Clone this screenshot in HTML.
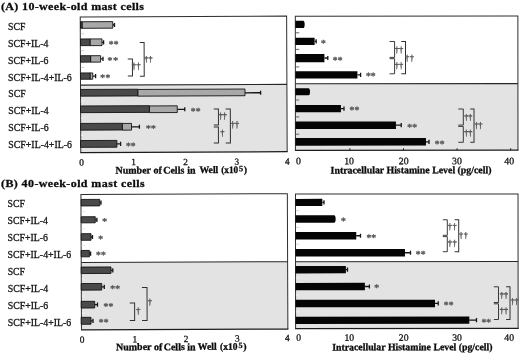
<!DOCTYPE html>
<html><head><meta charset="utf-8"><title>Mast cells figure</title>
<style>
html,body{margin:0;padding:0;background:#fff;}
body{width:520px;height:353px;overflow:hidden;}
svg{display:block;will-change:transform;opacity:0.999;font-family:"Liberation Serif","DejaVu Serif",serif;}
</style></head><body>
<svg width="520" height="353" viewBox="0 0 520 353">
<rect x="0" y="0" width="520" height="353" fill="#ffffff"/>
<g transform="rotate(-0.23 184.0 173.0)">
<rect x="80.85" y="84.75" width="206.40" height="67.35" fill="#e3e3e3"/>
<line x1="80.85" y1="84.75" x2="287.25" y2="84.75" stroke="#262626" stroke-width="1.1"/>
<path d="M80.85 152.10V16.50H287.25V152.10" fill="none" stroke="#2e2e2e" stroke-width="1"/>
<line x1="80.35" y1="152.10" x2="287.75" y2="152.10" stroke="#1c1c1c" stroke-width="1.25"/>
<path d="M113.34 24.74h1.75m0 -2.1v4.2" fill="none" stroke="#161616" stroke-width="1.3"/>
<rect x="82.61" y="21.34" width="30.75" height="6.55" fill="#a8a8a8" stroke="#141414" stroke-width="0.9"/>
<rect x="81.11" y="21.34" width="1.50" height="6.55" fill="#4a4a4a" stroke="#141414" stroke-width="0.9"/>
<path d="M102.53 41.97h1.60m0 -2.1v4.2" fill="none" stroke="#161616" stroke-width="1.3"/>
<rect x="90.54" y="38.57" width="12.00" height="6.70" fill="#a8a8a8" stroke="#141414" stroke-width="0.9"/>
<rect x="81.04" y="38.54" width="9.50" height="6.70" fill="#4a4a4a" stroke="#141414" stroke-width="0.9"/>
<text x="111.71" y="46.91" font-size="9.6" text-anchor="middle" fill="#5e5e5e" stroke="#5e5e5e" stroke-width="0.45">*</text>
<text x="116.76" y="46.93" font-size="9.6" text-anchor="middle" fill="#5e5e5e" stroke="#5e5e5e" stroke-width="0.45">*</text>
<path d="M101.06 58.59h2.40m0 -2.1v4.2" fill="none" stroke="#161616" stroke-width="1.3"/>
<rect x="91.07" y="55.33" width="10.00" height="6.45" fill="#a8a8a8" stroke="#141414" stroke-width="0.9"/>
<rect x="80.97" y="55.29" width="10.10" height="6.45" fill="#4a4a4a" stroke="#141414" stroke-width="0.9"/>
<text x="110.39" y="63.25" font-size="9.6" text-anchor="middle" fill="#5e5e5e" stroke="#5e5e5e" stroke-width="0.45">*</text>
<text x="116.19" y="63.28" font-size="9.6" text-anchor="middle" fill="#5e5e5e" stroke="#5e5e5e" stroke-width="0.45">*</text>
<path d="M93.14 75.73h2.85m0 -2.1v4.2" fill="none" stroke="#161616" stroke-width="1.3"/>
<rect x="90.40" y="72.57" width="2.75" height="6.30" fill="#a8a8a8" stroke="#141414" stroke-width="0.9"/>
<rect x="80.90" y="72.54" width="9.50" height="6.30" fill="#4a4a4a" stroke="#141414" stroke-width="0.9"/>
<text x="103.07" y="80.32" font-size="9.6" text-anchor="middle" fill="#5e5e5e" stroke="#5e5e5e" stroke-width="0.45">*</text>
<text x="108.32" y="80.35" font-size="9.6" text-anchor="middle" fill="#5e5e5e" stroke="#5e5e5e" stroke-width="0.45">*</text>
<path d="M245.32 93.05h15.60m0 -2.1v4.2" fill="none" stroke="#161616" stroke-width="1.3"/>
<rect x="138.09" y="89.27" width="107.25" height="6.70" fill="#a8a8a8" stroke="#141414" stroke-width="0.9"/>
<rect x="80.84" y="89.04" width="57.25" height="6.70" fill="#4a4a4a" stroke="#141414" stroke-width="0.9"/>
<path d="M177.51 109.27h7.50m0 -2.1v4.2" fill="none" stroke="#161616" stroke-width="1.3"/>
<rect x="149.67" y="105.81" width="27.85" height="6.70" fill="#a8a8a8" stroke="#141414" stroke-width="0.9"/>
<rect x="80.77" y="105.54" width="68.90" height="6.70" fill="#4a4a4a" stroke="#141414" stroke-width="0.9"/>
<text x="193.29" y="114.29" font-size="9.6" text-anchor="middle" fill="#5e5e5e" stroke="#5e5e5e" stroke-width="0.45">*</text>
<text x="198.29" y="114.31" font-size="9.6" text-anchor="middle" fill="#5e5e5e" stroke="#5e5e5e" stroke-width="0.45">*</text>
<path d="M131.69 126.59h7.90m0 -2.1v4.2" fill="none" stroke="#161616" stroke-width="1.3"/>
<rect x="122.45" y="123.20" width="9.25" height="6.70" fill="#a8a8a8" stroke="#141414" stroke-width="0.9"/>
<rect x="80.70" y="123.03" width="41.75" height="6.70" fill="#4a4a4a" stroke="#141414" stroke-width="0.9"/>
<text x="148.62" y="131.26" font-size="9.6" text-anchor="middle" fill="#5e5e5e" stroke="#5e5e5e" stroke-width="0.45">*</text>
<text x="153.62" y="131.28" font-size="9.6" text-anchor="middle" fill="#5e5e5e" stroke="#5e5e5e" stroke-width="0.45">*</text>
<path d="M117.02 143.68h3.70m0 -2.1v4.2" fill="none" stroke="#161616" stroke-width="1.3"/>
<rect x="80.63" y="140.13" width="36.40" height="6.80" fill="#4a4a4a" stroke="#141414" stroke-width="0.9"/>
<text x="128.55" y="148.68" font-size="9.6" text-anchor="middle" fill="#5e5e5e" stroke="#5e5e5e" stroke-width="0.45">*</text>
<text x="133.15" y="148.70" font-size="9.6" text-anchor="middle" fill="#5e5e5e" stroke="#5e5e5e" stroke-width="0.45">*</text>
<line x1="81.46" y1="33.29" x2="84.86" y2="33.30" stroke="#d2d2d2" stroke-width="0.9"/>
<line x1="81.39" y1="50.19" x2="84.79" y2="50.20" stroke="#d2d2d2" stroke-width="0.9"/>
<line x1="81.32" y1="67.09" x2="84.72" y2="67.10" stroke="#d2d2d2" stroke-width="0.9"/>
<line x1="81.19" y1="100.59" x2="84.59" y2="100.60" stroke="#f2f2f2" stroke-width="0.9"/>
<line x1="81.12" y1="117.59" x2="84.52" y2="117.60" stroke="#f2f2f2" stroke-width="0.9"/>
<line x1="81.05" y1="134.59" x2="84.45" y2="134.60" stroke="#f2f2f2" stroke-width="0.9"/>
<path d="M128.21 58.78h4.65v17.00h-4.65" fill="none" stroke="#303030" stroke-width="1.0"/>
<path d="M140.27 42.32h4.35v33.70h-4.35" fill="none" stroke="#303030" stroke-width="1.0"/>
<text x="134.42" y="68.81" font-size="8.98" text-anchor="middle" fill="#555555" stroke="#555555" stroke-width="0.35">†</text>
<text x="138.92" y="68.83" font-size="8.98" text-anchor="middle" fill="#555555" stroke="#555555" stroke-width="0.35">†</text>
<text x="146.70" y="61.54" font-size="8.12" text-anchor="middle" fill="#555555" stroke="#555555" stroke-width="0.35">†</text>
<text x="151.05" y="61.56" font-size="8.12" text-anchor="middle" fill="#555555" stroke="#555555" stroke-width="0.35">†</text>
<path d="M214.01 109.12h4.65v16.00h-4.65" fill="none" stroke="#303030" stroke-width="1.0"/>
<path d="M213.93 127.02h4.65v16.20h-4.65" fill="none" stroke="#303030" stroke-width="1.0"/>
<path d="M225.86 109.17h4.70v34.10h-4.70" fill="none" stroke="#303030" stroke-width="1.0"/>
<text x="220.82" y="118.93" font-size="8.64" text-anchor="middle" fill="#555555" stroke="#555555" stroke-width="0.35">†</text>
<text x="224.97" y="118.95" font-size="8.64" text-anchor="middle" fill="#555555" stroke="#555555" stroke-width="0.35">†</text>
<text x="222.65" y="135.87" font-size="8.52" text-anchor="middle" fill="#555555" stroke="#555555" stroke-width="0.35">†</text>
<text x="232.93" y="127.71" font-size="8.98" text-anchor="middle" fill="#555555" stroke="#555555" stroke-width="0.35">†</text>
<text x="237.08" y="127.73" font-size="8.98" text-anchor="middle" fill="#555555" stroke="#555555" stroke-width="0.35">†</text>
<rect x="80.85" y="262.10" width="206.40" height="67.35" fill="#e3e3e3"/>
<line x1="80.85" y1="262.10" x2="287.25" y2="262.10" stroke="#262626" stroke-width="1.1"/>
<path d="M80.85 329.45V194.15H287.25V329.45" fill="none" stroke="#2e2e2e" stroke-width="1"/>
<line x1="80.35" y1="329.45" x2="287.75" y2="329.45" stroke="#1c1c1c" stroke-width="1.25"/>
<path d="M99.63 202.36h1.25m0 -2.1v4.2" fill="none" stroke="#161616" stroke-width="1.3"/>
<rect x="81.09" y="199.04" width="18.55" height="6.50" fill="#4a4a4a" stroke="#141414" stroke-width="0.9"/>
<path d="M95.06 219.44h1.65m0 -2.1v4.2" fill="none" stroke="#161616" stroke-width="1.3"/>
<rect x="81.03" y="216.34" width="14.05" height="6.10" fill="#4a4a4a" stroke="#141414" stroke-width="0.9"/>
<text x="104.49" y="224.08" font-size="9.6" text-anchor="middle" fill="#5e5e5e" stroke="#5e5e5e" stroke-width="0.45">*</text>
<path d="M90.74 236.63h1.50m0 -2.1v4.2" fill="none" stroke="#161616" stroke-width="1.3"/>
<rect x="80.96" y="233.29" width="9.80" height="6.60" fill="#4a4a4a" stroke="#141414" stroke-width="0.9"/>
<text x="100.27" y="241.56" font-size="9.6" text-anchor="middle" fill="#5e5e5e" stroke="#5e5e5e" stroke-width="0.45">*</text>
<path d="M89.08 253.27h1.20m0 -2.1v4.2" fill="none" stroke="#161616" stroke-width="1.3"/>
<rect x="80.89" y="250.04" width="8.20" height="6.40" fill="#4a4a4a" stroke="#141414" stroke-width="0.9"/>
<text x="98.11" y="257.56" font-size="9.6" text-anchor="middle" fill="#5e5e5e" stroke="#5e5e5e" stroke-width="0.45">*</text>
<text x="103.11" y="257.58" font-size="9.6" text-anchor="middle" fill="#5e5e5e" stroke="#5e5e5e" stroke-width="0.45">*</text>
<path d="M110.61 270.01h1.80m0 -2.1v4.2" fill="none" stroke="#161616" stroke-width="1.3"/>
<rect x="80.82" y="266.64" width="29.80" height="6.50" fill="#4a4a4a" stroke="#141414" stroke-width="0.9"/>
<path d="M101.24 286.52h2.60m0 -2.1v4.2" fill="none" stroke="#161616" stroke-width="1.3"/>
<rect x="80.76" y="283.14" width="20.50" height="6.60" fill="#4a4a4a" stroke="#141414" stroke-width="0.9"/>
<text x="112.22" y="291.36" font-size="9.6" text-anchor="middle" fill="#5e5e5e" stroke="#5e5e5e" stroke-width="0.45">*</text>
<text x="117.22" y="291.38" font-size="9.6" text-anchor="middle" fill="#5e5e5e" stroke="#5e5e5e" stroke-width="0.45">*</text>
<path d="M94.17 304.34h2.80m0 -2.1v4.2" fill="none" stroke="#161616" stroke-width="1.3"/>
<rect x="80.69" y="300.94" width="13.50" height="6.70" fill="#4a4a4a" stroke="#141414" stroke-width="0.9"/>
<text x="105.40" y="309.14" font-size="9.6" text-anchor="middle" fill="#5e5e5e" stroke="#5e5e5e" stroke-width="0.45">*</text>
<text x="110.40" y="309.16" font-size="9.6" text-anchor="middle" fill="#5e5e5e" stroke="#5e5e5e" stroke-width="0.45">*</text>
<path d="M90.41 320.43h2.00m0 -2.1v4.2" fill="none" stroke="#161616" stroke-width="1.3"/>
<rect x="80.62" y="316.94" width="9.80" height="6.90" fill="#4a4a4a" stroke="#141414" stroke-width="0.9"/>
<text x="100.59" y="324.92" font-size="9.6" text-anchor="middle" fill="#5e5e5e" stroke="#5e5e5e" stroke-width="0.45">*</text>
<text x="105.59" y="324.94" font-size="9.6" text-anchor="middle" fill="#5e5e5e" stroke="#5e5e5e" stroke-width="0.45">*</text>
<line x1="81.45" y1="211.09" x2="84.85" y2="211.10" stroke="#e6e6e6" stroke-width="0.9"/>
<line x1="81.38" y1="228.09" x2="84.78" y2="228.10" stroke="#e6e6e6" stroke-width="0.9"/>
<line x1="81.31" y1="245.09" x2="84.71" y2="245.10" stroke="#e6e6e6" stroke-width="0.9"/>
<line x1="81.38" y1="278.59" x2="84.78" y2="278.60" stroke="#f2f2f2" stroke-width="0.9"/>
<line x1="81.31" y1="295.59" x2="84.71" y2="295.60" stroke="#f2f2f2" stroke-width="0.9"/>
<line x1="81.24" y1="312.59" x2="84.64" y2="312.60" stroke="#f2f2f2" stroke-width="0.9"/>
<path d="M129.23 302.88h4.85v17.50h-4.85" fill="none" stroke="#303030" stroke-width="1.0"/>
<path d="M141.44 287.33h5.10v33.10h-5.10" fill="none" stroke="#303030" stroke-width="1.0"/>
<text x="137.54" y="313.54" font-size="8.92" text-anchor="middle" fill="#555555" stroke="#555555" stroke-width="0.35">†</text>
<text x="149.47" y="304.57" font-size="8.52" text-anchor="middle" fill="#555555" stroke="#555555" stroke-width="0.35">†</text>
<text x="81.73" y="164.99" font-size="9.3" text-anchor="middle" fill="#161616" stroke="#161616" stroke-width="0.3">0</text>
<text x="133.63" y="164.80" font-size="9.3" text-anchor="middle" fill="#161616" stroke="#161616" stroke-width="0.3">1</text>
<text x="185.63" y="164.91" font-size="9.3" text-anchor="middle" fill="#161616" stroke="#161616" stroke-width="0.3">2</text>
<text x="236.83" y="164.91" font-size="9.3" text-anchor="middle" fill="#161616" stroke="#161616" stroke-width="0.3">3</text>
<text x="287.33" y="164.81" font-size="9.3" text-anchor="middle" fill="#161616" stroke="#161616" stroke-width="0.3">4</text>
<text x="81.52" y="342.29" font-size="9.4" text-anchor="middle" fill="#161616" stroke="#161616" stroke-width="0.3">0</text>
<text x="134.12" y="342.00" font-size="9.4" text-anchor="middle" fill="#161616" stroke="#161616" stroke-width="0.3">1</text>
<text x="185.42" y="341.91" font-size="9.4" text-anchor="middle" fill="#161616" stroke="#161616" stroke-width="0.3">2</text>
<text x="236.72" y="341.71" font-size="9.4" text-anchor="middle" fill="#161616" stroke="#161616" stroke-width="0.3">3</text>
<text x="286.62" y="341.41" font-size="9.4" text-anchor="middle" fill="#161616" stroke="#161616" stroke-width="0.3">4</text>
<text x="115.50" y="173.23" font-size="10" font-weight="bold" text-anchor="start" fill="#0c0c0c" stroke="#0c0c0c" stroke-width="0.3">Number</text>
<text x="153.60" y="173.38" font-size="10" font-weight="bold" text-anchor="start" fill="#0c0c0c" stroke="#0c0c0c" stroke-width="0.3">of</text>
<text x="163.20" y="173.42" font-size="10" font-weight="bold" text-anchor="start" fill="#0c0c0c" stroke="#0c0c0c" stroke-width="0.3">Cells</text>
<text x="187.20" y="173.51" font-size="10" font-weight="bold" text-anchor="start" fill="#0c0c0c" stroke="#0c0c0c" stroke-width="0.3">in</text>
<text x="199.40" y="173.11" font-size="10" font-weight="bold" text-anchor="start" fill="#0c0c0c" textLength="18.9" lengthAdjust="spacingAndGlyphs" stroke="#0c0c0c" stroke-width="0.3">Well</text>
<text x="221.20" y="173.20" font-size="10" font-weight="bold" text-anchor="start" fill="#0c0c0c" textLength="17.0" lengthAdjust="spacingAndGlyphs" stroke="#0c0c0c" stroke-width="0.3">(x10</text>
<text x="238.91" y="171.42" font-size="8.2" font-weight="bold" text-anchor="start" fill="#0c0c0c" stroke="#0c0c0c" stroke-width="0.3">5</text>
<text x="243.80" y="173.29" font-size="10" font-weight="bold" text-anchor="start" fill="#0c0c0c" stroke="#0c0c0c" stroke-width="0.3">)</text>
<text x="115.29" y="349.93" font-size="10" font-weight="bold" text-anchor="start" fill="#0c0c0c" stroke="#0c0c0c" stroke-width="0.3">Number</text>
<text x="153.39" y="350.08" font-size="10" font-weight="bold" text-anchor="start" fill="#0c0c0c" stroke="#0c0c0c" stroke-width="0.3">of</text>
<text x="162.99" y="350.12" font-size="10" font-weight="bold" text-anchor="start" fill="#0c0c0c" stroke="#0c0c0c" stroke-width="0.3">Cells</text>
<text x="186.59" y="350.21" font-size="10" font-weight="bold" text-anchor="start" fill="#0c0c0c" stroke="#0c0c0c" stroke-width="0.3">in</text>
<text x="197.09" y="349.80" font-size="10" font-weight="bold" text-anchor="start" fill="#0c0c0c" textLength="18.9" lengthAdjust="spacingAndGlyphs" stroke="#0c0c0c" stroke-width="0.3">Well</text>
<text x="219.29" y="349.89" font-size="10" font-weight="bold" text-anchor="start" fill="#0c0c0c" textLength="17.4" lengthAdjust="spacingAndGlyphs" stroke="#0c0c0c" stroke-width="0.3">(x10</text>
<text x="237.80" y="348.12" font-size="8.2" font-weight="bold" text-anchor="start" fill="#0c0c0c" stroke="#0c0c0c" stroke-width="0.3">5</text>
<text x="242.49" y="349.99" font-size="10" font-weight="bold" text-anchor="start" fill="#0c0c0c" stroke="#0c0c0c" stroke-width="0.3">)</text>
</g>
<g transform="rotate(-0.05 407.0 173.0)">
<rect x="295.45" y="83.70" width="222.55" height="66.55" fill="#e3e3e3"/>
<line x1="295.45" y1="83.70" x2="518.00" y2="83.70" stroke="#262626" stroke-width="1.1"/>
<path d="M295.45 150.25V16.05H518.00V150.25" fill="none" stroke="#2e2e2e" stroke-width="1"/>
<line x1="294.95" y1="150.25" x2="518.50" y2="150.25" stroke="#1c1c1c" stroke-width="1.2"/>
<path d="M295.45 20.70H303.20Q304.80 20.70 304.80 24.30Q304.80 27.90 303.20 27.90H295.45Z" fill="#050505"/>
<path d="M314.86 41.24h1.45m0 -2.1v4.2" fill="none" stroke="#161616" stroke-width="1.3"/>
<rect x="295.45" y="37.75" width="19.30" height="7.15" fill="#050505"/>
<text x="323.56" y="46.08" font-size="9.6" text-anchor="middle" fill="#5e5e5e" stroke="#5e5e5e" stroke-width="0.45">*</text>
<path d="M324.60 57.93h3.30m0 -2.1v4.2" fill="none" stroke="#161616" stroke-width="1.3"/>
<rect x="295.45" y="53.90" width="29.05" height="8.20" fill="#050505"/>
<text x="335.30" y="63.09" font-size="9.6" text-anchor="middle" fill="#5e5e5e" stroke="#5e5e5e" stroke-width="0.45">*</text>
<text x="340.30" y="63.09" font-size="9.6" text-anchor="middle" fill="#5e5e5e" stroke="#5e5e5e" stroke-width="0.45">*</text>
<path d="M357.59 74.83h3.10m0 -2.1v4.2" fill="none" stroke="#161616" stroke-width="1.3"/>
<rect x="295.45" y="71.25" width="62.05" height="7.25" fill="#050505"/>
<text x="368.53" y="79.02" font-size="9.6" text-anchor="middle" fill="#5e5e5e" stroke="#5e5e5e" stroke-width="0.45">*</text>
<text x="373.13" y="79.02" font-size="9.6" text-anchor="middle" fill="#5e5e5e" stroke="#5e5e5e" stroke-width="0.45">*</text>
<path d="M295.45 88.10H308.50Q310.10 88.10 310.10 91.67Q310.10 95.25 308.50 95.25H295.45Z" fill="#050505"/>
<path d="M341.06 108.57h3.00m0 -2.1v4.2" fill="none" stroke="#161616" stroke-width="1.3"/>
<rect x="295.45" y="105.00" width="45.55" height="7.25" fill="#050505"/>
<text x="351.90" y="112.85" font-size="9.6" text-anchor="middle" fill="#5e5e5e" stroke="#5e5e5e" stroke-width="0.45">*</text>
<text x="356.90" y="112.86" font-size="9.6" text-anchor="middle" fill="#5e5e5e" stroke="#5e5e5e" stroke-width="0.45">*</text>
<path d="M396.04 125.19h5.25m0 -2.1v4.2" fill="none" stroke="#161616" stroke-width="1.3"/>
<rect x="295.45" y="121.40" width="100.55" height="7.60" fill="#050505"/>
<text x="409.74" y="130.15" font-size="9.6" text-anchor="middle" fill="#5e5e5e" stroke="#5e5e5e" stroke-width="0.45">*</text>
<text x="414.74" y="130.16" font-size="9.6" text-anchor="middle" fill="#5e5e5e" stroke="#5e5e5e" stroke-width="0.45">*</text>
<path d="M426.03 141.82h3.00m0 -2.1v4.2" fill="none" stroke="#161616" stroke-width="1.3"/>
<rect x="295.45" y="138.00" width="130.55" height="7.60" fill="#050505"/>
<text x="437.22" y="147.08" font-size="9.6" text-anchor="middle" fill="#5e5e5e" stroke="#5e5e5e" stroke-width="0.45">*</text>
<text x="442.22" y="147.08" font-size="9.6" text-anchor="middle" fill="#5e5e5e" stroke="#5e5e5e" stroke-width="0.45">*</text>
<line x1="295.97" y1="32.70" x2="299.37" y2="32.71" stroke="#555" stroke-width="0.9"/>
<line x1="295.96" y1="49.30" x2="299.36" y2="49.31" stroke="#555" stroke-width="0.9"/>
<line x1="295.94" y1="66.80" x2="299.34" y2="66.81" stroke="#555" stroke-width="0.9"/>
<line x1="295.91" y1="99.90" x2="299.31" y2="99.91" stroke="#555" stroke-width="0.9"/>
<line x1="295.90" y1="116.80" x2="299.30" y2="116.81" stroke="#555" stroke-width="0.9"/>
<line x1="295.88" y1="134.10" x2="299.28" y2="134.11" stroke="#555" stroke-width="0.9"/>
<path d="M389.71 41.48h5.00v15.90h-5.00" fill="none" stroke="#303030" stroke-width="0.95"/>
<path d="M389.70 58.68h5.00v15.10h-5.00" fill="none" stroke="#303030" stroke-width="0.95"/>
<path d="M401.36 41.50h4.25v32.30h-4.25" fill="none" stroke="#303030" stroke-width="1.0"/>
<text x="397.01" y="52.60" font-size="8.52" text-anchor="middle" fill="#555555" stroke="#555555" stroke-width="0.35">†</text>
<text x="401.36" y="52.61" font-size="8.52" text-anchor="middle" fill="#555555" stroke="#555555" stroke-width="0.35">†</text>
<text x="396.99" y="68.20" font-size="8.52" text-anchor="middle" fill="#555555" stroke="#555555" stroke-width="0.35">†</text>
<text x="401.34" y="68.21" font-size="8.52" text-anchor="middle" fill="#555555" stroke="#555555" stroke-width="0.35">†</text>
<text x="407.35" y="60.71" font-size="8.52" text-anchor="middle" fill="#555555" stroke="#555555" stroke-width="0.35">†</text>
<text x="412.00" y="60.71" font-size="8.52" text-anchor="middle" fill="#555555" stroke="#555555" stroke-width="0.35">†</text>
<path d="M458.31 109.04h5.05v16.10h-5.05" fill="none" stroke="#303030" stroke-width="0.95"/>
<path d="M458.29 126.44h5.05v15.90h-5.05" fill="none" stroke="#303030" stroke-width="0.95"/>
<path d="M470.26 109.06h3.80v33.30h-3.80" fill="none" stroke="#303030" stroke-width="1.0"/>
<text x="466.25" y="119.75" font-size="8.13" text-anchor="middle" fill="#555555" stroke="#555555" stroke-width="0.35">†</text>
<text x="470.25" y="119.75" font-size="8.13" text-anchor="middle" fill="#555555" stroke="#555555" stroke-width="0.35">†</text>
<text x="466.23" y="135.63" font-size="8.18" text-anchor="middle" fill="#555555" stroke="#555555" stroke-width="0.35">†</text>
<text x="470.23" y="135.64" font-size="8.18" text-anchor="middle" fill="#555555" stroke="#555555" stroke-width="0.35">†</text>
<text x="476.54" y="127.97" font-size="8.52" text-anchor="middle" fill="#555555" stroke="#555555" stroke-width="0.35">†</text>
<text x="480.54" y="127.97" font-size="8.52" text-anchor="middle" fill="#555555" stroke="#555555" stroke-width="0.35">†</text>
<line x1="349.92" y1="148.20" x2="349.92" y2="150.20" stroke="#222" stroke-width="1.0"/>
<line x1="403.52" y1="148.25" x2="403.52" y2="150.25" stroke="#222" stroke-width="1.0"/>
<line x1="457.12" y1="148.29" x2="457.12" y2="150.29" stroke="#222" stroke-width="1.0"/>
<line x1="510.72" y1="148.34" x2="510.72" y2="150.34" stroke="#222" stroke-width="1.0"/>
<rect x="295.45" y="261.60" width="222.55" height="66.90" fill="#e3e3e3"/>
<line x1="295.45" y1="261.60" x2="518.00" y2="261.60" stroke="#262626" stroke-width="1.1"/>
<path d="M295.45 328.50V194.00H518.00V328.50" fill="none" stroke="#2e2e2e" stroke-width="1"/>
<line x1="294.95" y1="328.50" x2="518.50" y2="328.50" stroke="#1c1c1c" stroke-width="1.3"/>
<path d="M322.27 202.28h1.70m0 -2.1v4.2" fill="none" stroke="#161616" stroke-width="1.3"/>
<rect x="295.45" y="198.80" width="26.85" height="7.10" fill="#050505"/>
<path d="M295.45 215.25H334.00Q335.60 215.25 335.60 219.00Q335.60 222.75 334.00 222.75H295.45Z" fill="#050505"/>
<text x="343.41" y="223.99" font-size="9.6" text-anchor="middle" fill="#5e5e5e" stroke="#5e5e5e" stroke-width="0.45">*</text>
<path d="M356.15 235.71h4.30m0 -2.1v4.2" fill="none" stroke="#161616" stroke-width="1.3"/>
<rect x="295.45" y="232.00" width="60.75" height="7.50" fill="#050505"/>
<text x="368.79" y="240.62" font-size="9.6" text-anchor="middle" fill="#5e5e5e" stroke="#5e5e5e" stroke-width="0.45">*</text>
<text x="373.69" y="240.62" font-size="9.6" text-anchor="middle" fill="#5e5e5e" stroke="#5e5e5e" stroke-width="0.45">*</text>
<path d="M404.83 252.75h5.60m0 -2.1v4.2" fill="none" stroke="#161616" stroke-width="1.3"/>
<rect x="295.45" y="249.00" width="109.45" height="7.50" fill="#050505"/>
<text x="418.08" y="257.16" font-size="9.6" text-anchor="middle" fill="#5e5e5e" stroke="#5e5e5e" stroke-width="0.45">*</text>
<text x="422.98" y="257.16" font-size="9.6" text-anchor="middle" fill="#5e5e5e" stroke="#5e5e5e" stroke-width="0.45">*</text>
<path d="M345.72 269.60h1.70m0 -2.1v4.2" fill="none" stroke="#161616" stroke-width="1.3"/>
<rect x="295.45" y="266.00" width="50.35" height="7.30" fill="#050505"/>
<path d="M364.70 286.46h4.60m0 -2.1v4.2" fill="none" stroke="#161616" stroke-width="1.3"/>
<rect x="295.45" y="282.80" width="69.35" height="7.40" fill="#050505"/>
<text x="376.55" y="290.82" font-size="9.6" text-anchor="middle" fill="#5e5e5e" stroke="#5e5e5e" stroke-width="0.45">*</text>
<path d="M434.79 303.47h3.35m0 -2.1v4.2" fill="none" stroke="#161616" stroke-width="1.3"/>
<rect x="295.45" y="299.70" width="139.45" height="7.50" fill="#050505"/>
<text x="446.03" y="307.98" font-size="9.6" text-anchor="middle" fill="#5e5e5e" stroke="#5e5e5e" stroke-width="0.45">*</text>
<text x="451.03" y="307.99" font-size="9.6" text-anchor="middle" fill="#5e5e5e" stroke="#5e5e5e" stroke-width="0.45">*</text>
<path d="M469.07 320.25h7.30m0 -2.1v4.2" fill="none" stroke="#161616" stroke-width="1.3"/>
<rect x="295.45" y="316.60" width="173.75" height="7.20" fill="#050505"/>
<text x="483.72" y="325.22" font-size="9.6" text-anchor="middle" fill="#5e5e5e" stroke="#5e5e5e" stroke-width="0.45">*</text>
<text x="488.62" y="325.22" font-size="9.6" text-anchor="middle" fill="#5e5e5e" stroke="#5e5e5e" stroke-width="0.45">*</text>
<line x1="295.82" y1="210.50" x2="299.22" y2="210.51" stroke="#d0d0d0" stroke-width="0.9"/>
<line x1="295.80" y1="227.30" x2="299.20" y2="227.31" stroke="#d0d0d0" stroke-width="0.9"/>
<line x1="295.79" y1="244.10" x2="299.19" y2="244.11" stroke="#d0d0d0" stroke-width="0.9"/>
<line x1="295.76" y1="277.90" x2="299.16" y2="277.91" stroke="#f4f4f4" stroke-width="0.9"/>
<line x1="295.74" y1="294.80" x2="299.14" y2="294.81" stroke="#f4f4f4" stroke-width="0.9"/>
<line x1="295.73" y1="311.80" x2="299.13" y2="311.81" stroke="#f4f4f4" stroke-width="0.9"/>
<path d="M442.76 219.83h4.50v15.50h-4.50" fill="none" stroke="#303030" stroke-width="0.95"/>
<path d="M442.74 236.63h4.50v15.10h-4.50" fill="none" stroke="#303030" stroke-width="0.95"/>
<path d="M454.56 219.84h4.10v31.90h-4.10" fill="none" stroke="#303030" stroke-width="1.0"/>
<text x="449.95" y="229.25" font-size="8.52" text-anchor="middle" fill="#555555" stroke="#555555" stroke-width="0.35">†</text>
<text x="454.55" y="229.25" font-size="8.52" text-anchor="middle" fill="#555555" stroke="#555555" stroke-width="0.35">†</text>
<text x="449.94" y="246.02" font-size="8.64" text-anchor="middle" fill="#555555" stroke="#555555" stroke-width="0.35">†</text>
<text x="454.54" y="246.03" font-size="8.64" text-anchor="middle" fill="#555555" stroke="#555555" stroke-width="0.35">†</text>
<text x="461.14" y="238.11" font-size="8.3" text-anchor="middle" fill="#555555" stroke="#555555" stroke-width="0.35">†</text>
<text x="465.74" y="238.11" font-size="8.3" text-anchor="middle" fill="#555555" stroke="#555555" stroke-width="0.35">†</text>
<path d="M493.70 286.88h4.70v15.70h-4.70" fill="none" stroke="#303030" stroke-width="0.95"/>
<path d="M493.69 303.88h4.70v15.70h-4.70" fill="none" stroke="#303030" stroke-width="0.95"/>
<path d="M506.00 286.89h3.90v32.70h-3.90" fill="none" stroke="#303030" stroke-width="1.0"/>
<text x="501.79" y="297.76" font-size="8.18" text-anchor="middle" fill="#555555" stroke="#555555" stroke-width="0.35">†</text>
<text x="505.99" y="297.77" font-size="8.18" text-anchor="middle" fill="#555555" stroke="#555555" stroke-width="0.35">†</text>
<text x="501.78" y="313.36" font-size="8.18" text-anchor="middle" fill="#555555" stroke="#555555" stroke-width="0.35">†</text>
<text x="505.98" y="313.37" font-size="8.18" text-anchor="middle" fill="#555555" stroke="#555555" stroke-width="0.35">†</text>
<text x="512.39" y="304.03" font-size="8.41" text-anchor="middle" fill="#555555" stroke="#555555" stroke-width="0.35">†</text>
<text x="516.59" y="304.03" font-size="8.41" text-anchor="middle" fill="#555555" stroke="#555555" stroke-width="0.35">†</text>
<text x="298.41" y="164.11" font-size="9.8" text-anchor="middle" fill="#161616" stroke="#161616" stroke-width="0.3">0</text>
<text x="349.11" y="164.15" font-size="9.8" text-anchor="middle" fill="#161616" stroke="#161616" stroke-width="0.3">10</text>
<text x="403.71" y="164.20" font-size="9.8" text-anchor="middle" fill="#161616" stroke="#161616" stroke-width="0.3">20</text>
<text x="457.01" y="164.24" font-size="9.8" text-anchor="middle" fill="#161616" stroke="#161616" stroke-width="0.3">30</text>
<text x="509.21" y="164.29" font-size="9.8" text-anchor="middle" fill="#161616" stroke="#161616" stroke-width="0.3">40</text>
<text x="298.45" y="340.71" font-size="9.7" text-anchor="middle" fill="#161616" stroke="#161616" stroke-width="0.3">0</text>
<text x="349.15" y="340.75" font-size="9.7" text-anchor="middle" fill="#161616" stroke="#161616" stroke-width="0.3">10</text>
<text x="403.55" y="340.80" font-size="9.7" text-anchor="middle" fill="#161616" stroke="#161616" stroke-width="0.3">20</text>
<text x="456.85" y="340.84" font-size="9.7" text-anchor="middle" fill="#161616" stroke="#161616" stroke-width="0.3">30</text>
<text x="509.05" y="340.89" font-size="9.7" text-anchor="middle" fill="#161616" stroke="#161616" stroke-width="0.3">40</text>
<text x="330.60" y="173.33" font-size="10" font-weight="bold" text-anchor="start" fill="#0c0c0c" textLength="160.9" lengthAdjust="spacingAndGlyphs" stroke="#0c0c0c" stroke-width="0.3">Intracellular Histamine Level (pg/cell)</text>
<text x="332.05" y="350.33" font-size="10" font-weight="bold" text-anchor="start" fill="#0c0c0c" textLength="160.3" lengthAdjust="spacingAndGlyphs" stroke="#0c0c0c" stroke-width="0.3">Intracellular Histamine Level (pg/cell)</text>
</g>
<g transform="translate(1,10.1) scale(1,0.92)">
<text x="0.00" y="0.00" font-size="12" font-weight="bold" text-anchor="start" fill="#0c0c0c" textLength="142.9" lengthAdjust="spacing" stroke="#0c0c0c" stroke-width="0.3">(A) 10-week-old mast cells</text>
</g>
<g transform="translate(1,187.3) scale(1,0.93)">
<text x="0.00" y="0.00" font-size="12" font-weight="bold" text-anchor="start" fill="#0c0c0c" textLength="143.6" lengthAdjust="spacing" stroke="#0c0c0c" stroke-width="0.3">(B) 40-week-old mast cells</text>
</g>
<text x="8.10" y="30.00" font-size="10" text-anchor="start" fill="#161616" textLength="17.3" lengthAdjust="spacingAndGlyphs" stroke="#161616" stroke-width="0.3">SCF</text>
<text x="8.10" y="47.00" font-size="10" text-anchor="start" fill="#161616" textLength="40.4" lengthAdjust="spacingAndGlyphs" stroke="#161616" stroke-width="0.3">SCF+IL-4</text>
<text x="8.10" y="64.20" font-size="10" text-anchor="start" fill="#161616" textLength="40.4" lengthAdjust="spacingAndGlyphs" stroke="#161616" stroke-width="0.3">SCF+IL-6</text>
<text x="8.10" y="81.20" font-size="10" text-anchor="start" fill="#161616" textLength="63.6" lengthAdjust="spacingAndGlyphs" stroke="#161616" stroke-width="0.3">SCF+IL-4+IL-6</text>
<text x="8.30" y="97.30" font-size="10" text-anchor="start" fill="#161616" textLength="17.3" lengthAdjust="spacingAndGlyphs" stroke="#161616" stroke-width="0.3">SCF</text>
<text x="8.30" y="114.00" font-size="10" text-anchor="start" fill="#161616" textLength="40.4" lengthAdjust="spacingAndGlyphs" stroke="#161616" stroke-width="0.3">SCF+IL-4</text>
<text x="8.30" y="131.00" font-size="10" text-anchor="start" fill="#161616" textLength="40.4" lengthAdjust="spacingAndGlyphs" stroke="#161616" stroke-width="0.3">SCF+IL-6</text>
<text x="8.30" y="147.70" font-size="10" text-anchor="start" fill="#161616" textLength="63.6" lengthAdjust="spacingAndGlyphs" stroke="#161616" stroke-width="0.3">SCF+IL-4+IL-6</text>
<text x="7.50" y="207.30" font-size="10" text-anchor="start" fill="#161616" textLength="17.3" lengthAdjust="spacingAndGlyphs" stroke="#161616" stroke-width="0.3">SCF</text>
<text x="7.50" y="223.90" font-size="10" text-anchor="start" fill="#161616" textLength="40.4" lengthAdjust="spacingAndGlyphs" stroke="#161616" stroke-width="0.3">SCF+IL-4</text>
<text x="7.50" y="241.00" font-size="10" text-anchor="start" fill="#161616" textLength="40.4" lengthAdjust="spacingAndGlyphs" stroke="#161616" stroke-width="0.3">SCF+IL-6</text>
<text x="7.50" y="257.70" font-size="10" text-anchor="start" fill="#161616" textLength="63.6" lengthAdjust="spacingAndGlyphs" stroke="#161616" stroke-width="0.3">SCF+IL-4+IL-6</text>
<text x="7.70" y="275.30" font-size="10" text-anchor="start" fill="#161616" textLength="17.3" lengthAdjust="spacingAndGlyphs" stroke="#161616" stroke-width="0.3">SCF</text>
<text x="7.70" y="291.90" font-size="10" text-anchor="start" fill="#161616" textLength="40.4" lengthAdjust="spacingAndGlyphs" stroke="#161616" stroke-width="0.3">SCF+IL-4</text>
<text x="7.70" y="309.00" font-size="10" text-anchor="start" fill="#161616" textLength="40.4" lengthAdjust="spacingAndGlyphs" stroke="#161616" stroke-width="0.3">SCF+IL-6</text>
<text x="7.70" y="325.70" font-size="10" text-anchor="start" fill="#161616" textLength="63.6" lengthAdjust="spacingAndGlyphs" stroke="#161616" stroke-width="0.3">SCF+IL-4+IL-6</text>
</svg>
</body></html>
